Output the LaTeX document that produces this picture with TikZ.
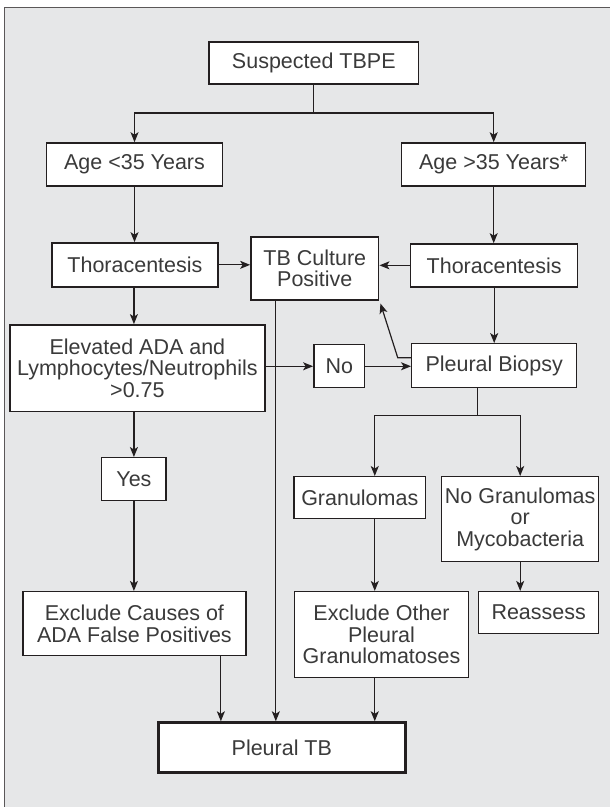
\documentclass[tikz,border=0pt]{standalone}
\usepackage{fontspec}
\setmainfont{Liberation Sans}
\usetikzlibrary{arrows.meta,calc}
\definecolor{bg}{HTML}{E6E7E8}
\definecolor{ink}{HTML}{231F20}
\definecolor{txt}{HTML}{3A3A3A}
\begin{document}
\begin{tikzpicture}[x=1pt,y=-1pt,
  box/.style={draw=ink, line width=1.4pt, fill=white, text=txt,
    font=\fontsize{21.5}{21.5}\selectfont, align=center, inner sep=0pt, anchor=center},
  arr/.style={draw=ink, line width=1.2pt, -{Stealth[length=10pt,width=8pt,inset=2.5pt]}},
  ln/.style={draw=ink, line width=1.2pt}]
\fill[white] (0,0) rectangle (610,807);
\fill[bg] (4.5,7.5) rectangle (610,807);
\draw[draw=ink!75, line width=1pt] (4.5,807) -- (4.5,7.5) -- (610,7.5);
\useasboundingbox (0,0) rectangle (610,807);

\node[box, minimum width=210pt, minimum height=42pt] (top) at (314,63) {Suspected TBPE};
\node[box, minimum width=176pt, minimum height=43pt] (age1) at (134.6,164.5) {Age <35 Years};
\node[box, minimum width=184pt, minimum height=43pt] (age2) at (494,164.5) {Age >35 Years*};
\node[box, minimum width=166pt, minimum height=44pt] (thor1) at (135,265) {Thoracentesis};
\node[box, minimum width=128pt, minimum height=63pt] (tbc) at (315,268.5) {TB Culture\\Positive};
\node[box, minimum width=167pt, minimum height=43pt] (thor2) at (494.5,265.5) {Thoracentesis};
\node[box, minimum width=255pt, minimum height=87pt] (elev) at (137.5,368.5) {Elevated ADA and\\Lymphocytes/Neutrophils\\>0.75};
\node[box, minimum width=51pt, minimum height=43pt] (no) at (339.5,366.5) {No};
\node[box, minimum width=165pt, minimum height=44pt] (pb) at (494.5,366) {Pleural Biopsy};
\node[box, minimum width=64.5pt, minimum height=43pt] (yes) at (134,479.5) {Yes};
\node[box, minimum width=131.5pt, minimum height=42pt] (gran) at (360,498) {Granulomas};
\node[box, minimum width=157pt, minimum height=85pt] (nogran) at (520.5,519.5) {No Granulomas\\or\\Mycobacteria};
\node[box, minimum width=223pt, minimum height=64pt] (excl1) at (134.5,624) {Exclude Causes of\\ADA False Positives};
\node[box, minimum width=174.5pt, minimum height=86pt] (excl2) at (381.75,635) {Exclude Other\\Pleural\\Granulomatoses};
\node[box, minimum width=120pt, minimum height=42pt] (reas) at (539,613) {Reassess};
\node[box, line width=2.6pt, minimum width=247pt, minimum height=50pt] (ptb) at (282,748) {Pleural TB};

% top branch
\coordinate (b1) at (314,113);
\draw[ln] (top.south) -- (b1);
\draw[arr] (b1) -| (age1.north);
\draw[arr] (b1) -| (age2.north);

% left column
\draw[arr] (age1.south) -- (age1.south |- thor1.north);
\draw[arr] (thor1.east) -- (thor1.east -| tbc.west);
\draw[arr] ([xshift=-1pt]thor1.south) -- ([xshift=-1pt]thor1.south |- elev.north);
\draw[arr] (yes.north |- elev.south) -- (yes.north);
\draw[arr] (yes.south) -- (yes.south |- excl1.north);
\draw[arr] ([xshift=86.5pt]excl1.south) -- ([xshift=86.5pt]excl1.south |- ptb.north);

% right column
\draw[arr] (age2.south) -- (age2.south |- thor2.north);
\draw[arr] (thor2.west) -- (thor2.west -| tbc.east);
\draw[arr] (thor2.south) -- (thor2.south |- pb.north);
\draw[arr] (no.west -| elev.east) -- (no.west);
\draw[arr] (no.east) -- (no.east -| pb.west);

% pleural biopsy back to culture
\coordinate (k) at (398,358);
\draw[arr] (pb.west |- k) -- (k) -- ([xshift=1pt,yshift=-3pt]tbc.south east);

% culture to pleural TB
\draw[arr] ([xshift=-39pt]tbc.south) -- ([xshift=-39pt]tbc.south |- ptb.north);

% biopsy branch
\coordinate (b2) at (478,416);
\draw[ln] (pb.south -| b2) -- (b2);
\draw[arr] (b2) -| ([xshift=15pt]gran.north);
\draw[arr] (b2) -| (nogran.north);
\draw[arr] ([xshift=15pt]gran.south) -- ([xshift=15pt]gran.south |- excl2.north);
\draw[arr] (nogran.south) -- (nogran.south |- reas.north);
\draw[arr] ([xshift=-6.75pt]excl2.south) -- ([xshift=-6.75pt]excl2.south |- ptb.north);
\end{tikzpicture}
\end{document}
